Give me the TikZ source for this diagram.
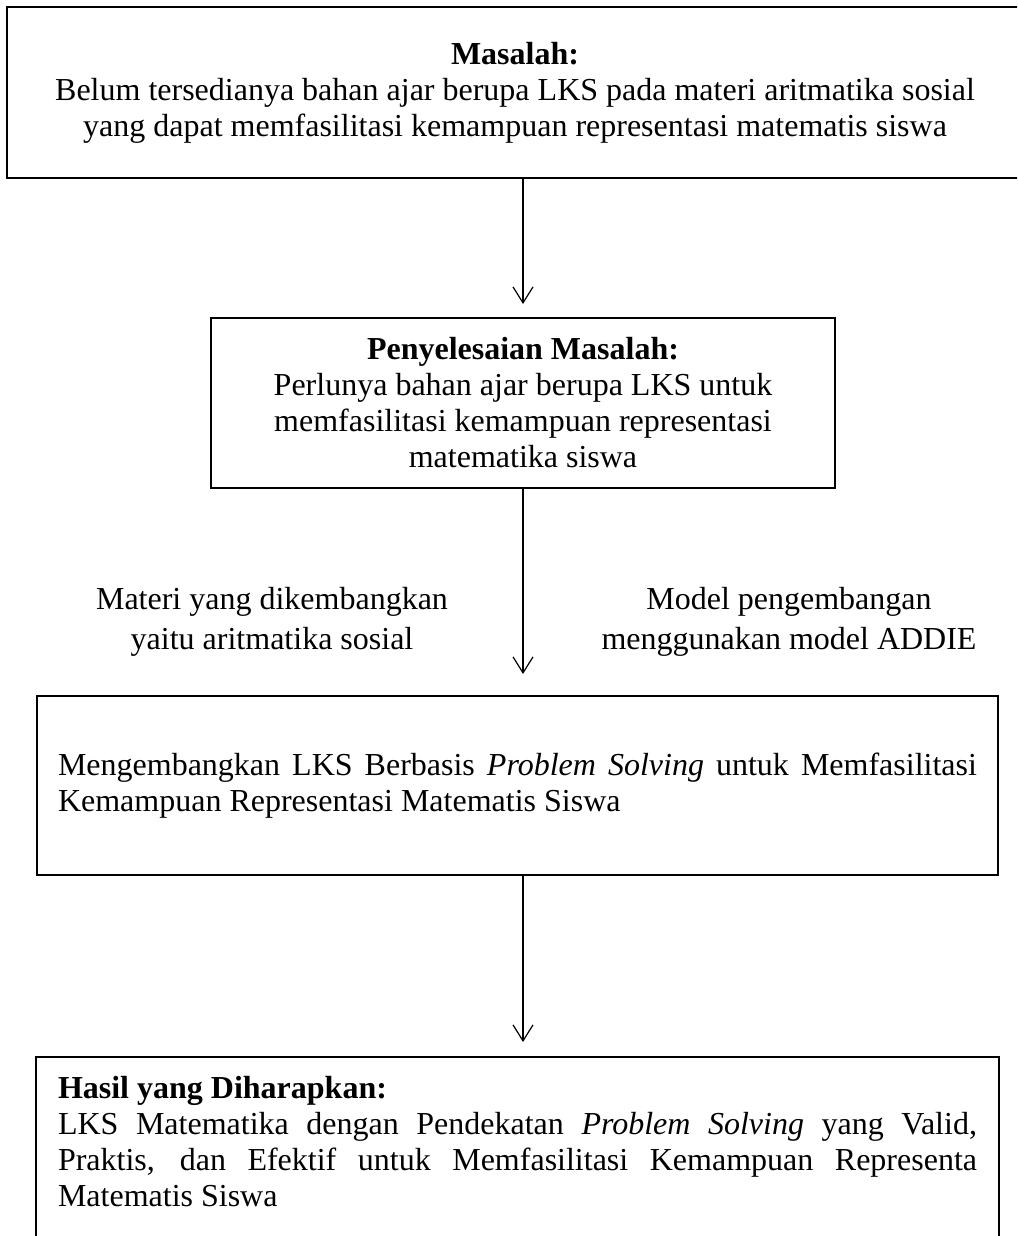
\documentclass[tikz,border=0pt]{standalone}
\usepackage{fontspec}
\setmainfont{Liberation Serif}
\usepackage{tikz}
\usetikzlibrary{arrows.meta}
\usetikzlibrary{positioning}
\hyphenpenalty=10000

\tikzset{
  kotak/.style={draw, line width=1pt, inner xsep=10.5pt, inner ysep=9pt, font=\fontsize{16pt}{18pt}\selectfont},
  catatan/.style={align=center, font=\fontsize{16pt}{20pt}\selectfont},
  panah/.style={-{Straight Barb[length=8pt,width=10pt]}, line width=0.6pt}
}

\begin{document}
\begin{tikzpicture}[x=0.5pt,y=-0.5pt]
\useasboundingbox (0,0) rectangle (1017,1236);
\clip (0,0) rectangle (1017,1236);
% kotak-kotak alur
\node[kotak, align=center, minimum width=508pt, minimum height=85.5pt] (masalah) at (515,92.5)
  {\textbf{Masalah:}\\ Belum tersedianya bahan ajar berupa LKS pada materi aritmatika sosial\\ yang dapat memfasilitasi kemampuan representasi matematis siswa};
\node[kotak, align=center, minimum width=312pt, minimum height=85pt] (solusi) at (523,403)
  {\textbf{Penyelesaian Masalah:}\\ Perlunya bahan ajar berupa LKS untuk\\ memfasilitasi kemampuan representasi\\ matematika siswa};
\node[kotak, text width=459.5pt, align=justify, minimum height=89.5pt] (lks) at (517.5,785.5)
  {Mengembangkan LKS Berbasis \textit{Problem Solving} untuk Memfasilitasi\linebreak Kemampuan Representasi Matematis Siswa};
\node[kotak, draw=none, text width=459.5pt, align=justify, anchor=north] (hasil) at (517.5,1057)
  {\textbf{Hasil yang Diharapkan:}\\ LKS Matematika dengan Pendekatan \textit{Problem Solving} yang Valid,\linebreak Praktis, dan Efektif untuk Memfasilitasi Kemampuan Representa\linebreak Matematis Siswa};
\draw[line width=1pt] (hasil.north west) rectangle ([yshift=-40pt]hasil.south east);
% keterangan samping
\node[catatan] (materi) at (272,622) {Materi yang dikembangkan\\ yaitu aritmatika sosial};
\node[catatan] (model) at (789,622) {Model pengembangan\\ menggunakan model ADDIE};
% panah
\draw[panah, shorten >=6.5pt] (masalah.south -| solusi) -- (solusi.north);
\draw[panah, shorten >=10.5pt] (solusi.south) -- (lks.north -| solusi);
\draw[panah, shorten >=7.5pt] (lks.south -| solusi) -- (hasil.north -| solusi);
\end{tikzpicture}
\end{document}
